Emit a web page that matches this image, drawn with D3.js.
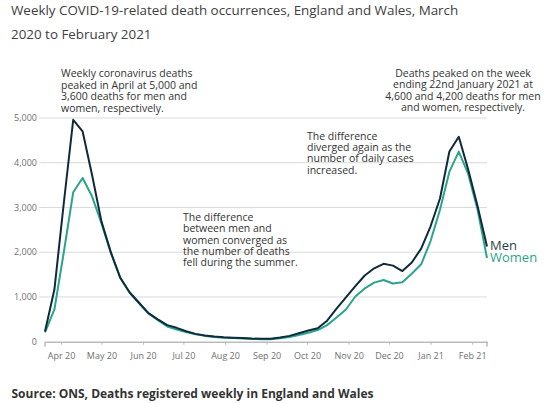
<!DOCTYPE html>
<html>
<head>
<meta charset="utf-8">
<script src="https://cdn.jsdelivr.net/npm/d3@7"></script>
<style>
  body { margin: 0; background: #fff; }
  svg { font-family: "Open Sans", sans-serif; }
</style>
</head>
<body>
<script>
let width = 550;
let height = 403;

// week ending dates
let weeks = [
  "2020-03-20", "2020-03-27", "2020-04-03", "2020-04-10", "2020-04-17", "2020-04-24",
  "2020-05-01", "2020-05-08", "2020-05-15", "2020-05-22", "2020-05-29",
  "2020-06-05", "2020-06-12", "2020-06-19", "2020-06-26",
  "2020-07-03", "2020-07-10", "2020-07-17", "2020-07-24", "2020-07-31",
  "2020-08-07", "2020-08-14", "2020-08-21", "2020-08-28",
  "2020-09-04", "2020-09-11", "2020-09-18", "2020-09-25",
  "2020-10-02", "2020-10-09", "2020-10-16", "2020-10-23", "2020-10-30",
  "2020-11-06", "2020-11-13", "2020-11-20", "2020-11-27",
  "2020-12-04", "2020-12-11", "2020-12-18", "2020-12-25",
  "2021-01-01", "2021-01-08", "2021-01-15", "2021-01-22", "2021-01-29",
  "2021-02-05", "2021-02-12"
];

let men = [
  230, 1165, 3100, 4960, 4700, 3730,
  2690, 2000, 1430, 1100, 870,
  640, 500, 370, 310,
  235, 175, 140, 115, 100,
  90, 80, 70, 65,
  65, 95, 130, 190,
  250, 300, 470, 740, 990,
  1240, 1480, 1640, 1740,
  1700, 1580, 1770, 2080,
  2580, 3200, 4250, 4580, 3850,
  3030, 2130
];

let women = [
  210, 720, 2000, 3340, 3660, 3250,
  2650, 1985, 1430, 1100, 860,
  630, 480, 340, 270,
  215, 165, 130, 105, 90,
  80, 70, 60, 55,
  55, 75, 105, 150,
  200, 260, 370, 540, 720,
  1010, 1190, 1320, 1380,
  1300, 1330, 1520, 1730,
  2250, 2950, 3800, 4250, 3750,
  2950, 1870
];

let yTicks = [0, 1000, 2000, 3000, 4000, 5000];

let titleLines = [
  "Weekly COVID-19-related death occurrences, England and Wales, March",
  "2020 to February 2021"
];

let notePeak1 = [
  "Weekly coronavirus deaths",
  "peaked in April at 5,000 and",
  "3,600 deaths for men and",
  "women, respectively."
];
let notePeak2 = [
  "Deaths peaked on the week",
  "ending 22nd January 2021 at",
  "4,600 and 4,200 deaths for men",
  "and women, respectively."
];
let noteSummer = [
  "The difference",
  "between men and",
  "women converged as",
  "the number of deaths",
  "fell during the summer."
];
let noteAutumn = [
  "The difference",
  "diverged again as the",
  "number of daily cases",
  "increased."
];

let menColor = "#0f2a3c";
let womenColor = "#2aa58c";

let parseDate = d3.timeParse("%Y-%m-%d");
let dates = weeks.map(parseDate);

let svg = d3.select("body")
    .append("svg")
    .attr("width", width)
    .attr("height", height);

let x = d3.scaleTime()
    .domain(d3.extent(dates))
    .range([45, 487]);

let y = d3.scaleLinear()
    .domain([0, 5000])
    .range([341.7, 118]);

// title
svg.append("g")
    .selectAll("text")
    .data(titleLines)
    .enter().append("text")
    .attr("x", 11)
    .attr("y", (d, i) => 14.5 + i * 24)
    .attr("font-size", 13.4)
    .attr("fill", "#414042")
    .text(d => d);

// gridlines
svg.append("g")
    .selectAll("line")
    .data(yTicks.filter(d => d > 0))
    .enter().append("line")
    .attr("x1", 39)
    .attr("x2", 487)
    .attr("y1", d => y(d))
    .attr("y2", d => y(d))
    .attr("stroke", "#dadada")
    .attr("stroke-width", 1);

// y labels
svg.append("g")
    .selectAll("text")
    .data(yTicks)
    .enter().append("text")
    .attr("x", 37)
    .attr("y", d => y(d))
    .attr("dy", "0.35em")
    .attr("text-anchor", "end")
    .attr("font-size", 9)
    .attr("fill", "#707070")
    .text(d => d3.format(",")(d));

// x axis
let xAxis = d3.axisBottom(x)
    .ticks(d3.timeMonth.every(1))
    .tickFormat(d3.timeFormat("%b %y"))
    .tickSize(3)
    .tickSizeOuter(0);

let gx = svg.append("g")
    .attr("transform", `translate(0,${y(0)})`)
    .call(xAxis);

gx.select(".domain").attr("stroke", "#9a9a9a");
gx.selectAll(".tick line").attr("stroke", "#bbb");
gx.selectAll(".tick text")
    .attr("font-family", "Open Sans, sans-serif")
    .attr("font-size", 9)
    .attr("fill", "#707070")
    .attr("dy", "1.25em");

// end ticks
gx.selectAll(".endtick")
    .data(x.domain())
    .enter().append("line")
    .attr("class", "endtick")
    .attr("x1", d => x(d))
    .attr("x2", d => x(d))
    .attr("y1", 0)
    .attr("y2", 5)
    .attr("stroke", "#9a9a9a");

// lines
let line = d3.line()
    .x((d, i) => x(dates[i]))
    .y(d => y(d));

svg.append("path")
    .datum(women)
    .attr("fill", "none")
    .attr("stroke", womenColor)
    .attr("stroke-width", 2)
    .attr("stroke-linejoin", "round")
    .attr("d", line);

svg.append("path")
    .datum(men)
    .attr("fill", "none")
    .attr("stroke", menColor)
    .attr("stroke-width", 2)
    .attr("stroke-linejoin", "round")
    .attr("d", line);

// series labels
svg.append("text")
    .attr("x", 490)
    .attr("y", 250)
    .attr("font-size", 13)
    .attr("fill", "#2e3d48")
    .text("Men");

svg.append("text")
    .attr("x", 490)
    .attr("y", 262)
    .attr("font-size", 13)
    .attr("fill", womenColor)
    .text("Women");

// annotations
function note(lines, x0, y0, anchor) {
    svg.append("g")
        .selectAll("text")
        .data(lines)
        .enter().append("text")
        .attr("x", x0)
        .attr("y", (d, i) => y0 + i * 11.4)
        .attr("text-anchor", anchor)
        .attr("font-size", 10.5)
        .attr("fill", "#333")
        .text(d => d);
}

note(notePeak1, 61, 77.3, "start");
note(notePeak2, 463, 76.7, "middle");
note(noteSummer, 183, 220.7, "start");
note(noteAutumn, 307, 139.5, "start");

// source
svg.append("text")
    .attr("x", 11.5)
    .attr("y", 397.5)
    .attr("font-size", 12)
    .attr("font-weight", "bold")
    .attr("fill", "#333")
    .text("Source: ONS, Deaths registered weekly in England and Wales");
</script>
</body>
</html>
